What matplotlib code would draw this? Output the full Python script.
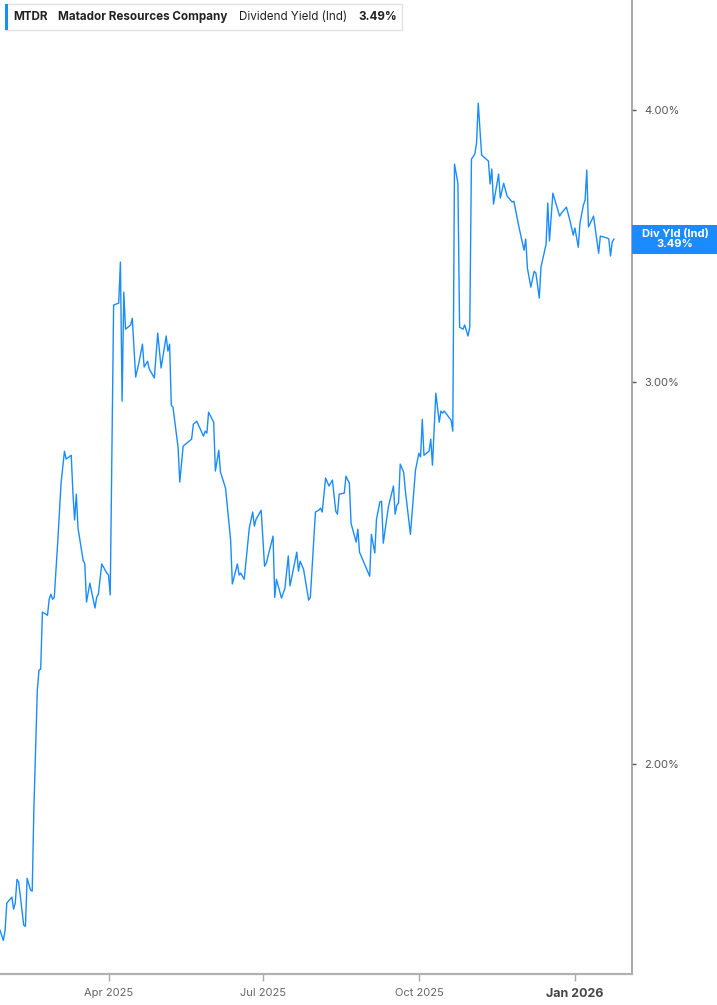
import datetime as dt
import matplotlib
matplotlib.use("Agg")
import matplotlib.pyplot as plt
from matplotlib.ticker import FixedLocator, FuncFormatter, NullLocator
from matplotlib.patches import Rectangle

plt.rcParams["font.family"] = ["Inter", "DejaVu Sans"]

# dividend yield (ind), %
dates = ["2025-01-27", "2025-01-29", "2025-01-30", "2025-01-31", "2025-02-03", "2025-02-04",
         "2025-02-05", "2025-02-06", "2025-02-07", "2025-02-10", "2025-02-11", "2025-02-12",
         "2025-02-14", "2025-02-15", "2025-02-16", "2025-02-18", "2025-02-19", "2025-02-20",
         "2025-02-21", "2025-02-24", "2025-02-25", "2025-02-26", "2025-02-27", "2025-02-28",
         "2025-03-02", "2025-03-04", "2025-03-06", "2025-03-07", "2025-03-10", "2025-03-11",
         "2025-03-12", "2025-03-13", "2025-03-14", "2025-03-17", "2025-03-18", "2025-03-19",
         "2025-03-21", "2025-03-24", "2025-03-25", "2025-03-26", "2025-03-28", "2025-03-31",
         "2025-04-01", "2025-04-02", "2025-04-04", "2025-04-07", "2025-04-08", "2025-04-09",
         "2025-04-10", "2025-04-11", "2025-04-14", "2025-04-15", "2025-04-17", "2025-04-19",
         "2025-04-21", "2025-04-22", "2025-04-24", "2025-04-25", "2025-04-28", "2025-04-30",
         "2025-05-02", "2025-05-05", "2025-05-06", "2025-05-07", "2025-05-08", "2025-05-09",
         "2025-05-12", "2025-05-13", "2025-05-15", "2025-05-20", "2025-05-21", "2025-05-23",
         "2025-05-27", "2025-05-28", "2025-05-29", "2025-05-30", "2025-06-02", "2025-06-03",
         "2025-06-05", "2025-06-06", "2025-06-09", "2025-06-12", "2025-06-13", "2025-06-16",
         "2025-06-17", "2025-06-18", "2025-06-20", "2025-06-23", "2025-06-25", "2025-06-26",
         "2025-06-27", "2025-06-30", "2025-07-02", "2025-07-03", "2025-07-07", "2025-07-08",
         "2025-07-09", "2025-07-12", "2025-07-14", "2025-07-16", "2025-07-17", "2025-07-21",
         "2025-07-22", "2025-07-23", "2025-07-25", "2025-07-28", "2025-07-29", "2025-08-01",
         "2025-08-03", "2025-08-04", "2025-08-05", "2025-08-07", "2025-08-09", "2025-08-11",
         "2025-08-13", "2025-08-14", "2025-08-15", "2025-08-18", "2025-08-19", "2025-08-21",
         "2025-08-22", "2025-08-25", "2025-08-26", "2025-08-27", "2025-09-02", "2025-09-03",
         "2025-09-05", "2025-09-06", "2025-09-08", "2025-09-09", "2025-09-10", "2025-09-13",
         "2025-09-16", "2025-09-17", "2025-09-18", "2025-09-19", "2025-09-20", "2025-09-22",
         "2025-09-23", "2025-09-26", "2025-09-29", "2025-10-01", "2025-10-02", "2025-10-03",
         "2025-10-04", "2025-10-07", "2025-10-08", "2025-10-09", "2025-10-11", "2025-10-13",
         "2025-10-14", "2025-10-15", "2025-10-16", "2025-10-20", "2025-10-21", "2025-10-22",
         "2025-10-24", "2025-10-25", "2025-10-27", "2025-10-28", "2025-10-30", "2025-10-31",
         "2025-11-01", "2025-11-03", "2025-11-04", "2025-11-05", "2025-11-07", "2025-11-11",
         "2025-11-12", "2025-11-13", "2025-11-14", "2025-11-17", "2025-11-18", "2025-11-20",
         "2025-11-22", "2025-11-25", "2025-11-26", "2025-11-29", "2025-12-02", "2025-12-03",
         "2025-12-04", "2025-12-06", "2025-12-08", "2025-12-09", "2025-12-11", "2025-12-12",
         "2025-12-15", "2025-12-16", "2025-12-17", "2025-12-19", "2025-12-23", "2025-12-24",
         "2025-12-27", "2025-12-29", "2025-12-31", "2026-01-01", "2026-01-03", "2026-01-04",
         "2026-01-06", "2026-01-07", "2026-01-08", "2026-01-09", "2026-01-12", "2026-01-15",
         "2026-01-16", "2026-01-20", "2026-01-21", "2026-01-22", "2026-01-23", "2026-01-24"]

yield_pct = [1.677, 1.659, 1.677, 1.726, 1.737, 1.715, 1.726, 1.770, 1.765, 1.686, 1.684, 1.772,
             1.750, 1.748, 1.911, 2.163, 2.210, 2.212, 2.350, 2.342, 2.382, 2.395, 2.382, 2.387,
             2.528, 2.694, 2.787, 2.764, 2.775, 2.666, 2.591, 2.663, 2.569, 2.483, 2.473, 2.375,
             2.423, 2.360, 2.387, 2.395, 2.473, 2.449, 2.444, 2.393, 3.254, 3.261, 3.406, 2.939,
             3.299, 3.172, 3.186, 3.209, 3.015, 3.063, 3.122, 3.047, 3.066, 3.041, 3.012, 3.159,
             3.044, 3.149, 3.099, 3.122, 2.927, 2.920, 2.799, 2.697, 2.802, 2.823, 2.868, 2.877,
             2.832, 2.847, 2.841, 2.905, 2.874, 2.729, 2.790, 2.726, 2.680, 2.536, 2.421, 2.473,
             2.444, 2.449, 2.433, 2.569, 2.613, 2.574, 2.593, 2.618, 2.467, 2.475, 2.547, 2.387,
             2.433, 2.385, 2.410, 2.494, 2.416, 2.504, 2.454, 2.480, 2.459, 2.380, 2.387, 2.613,
             2.618, 2.624, 2.613, 2.709, 2.686, 2.703, 2.615, 2.607, 2.663, 2.666, 2.714, 2.694,
             2.582, 2.531, 2.566, 2.504, 2.441, 2.552, 2.502, 2.593, 2.641, 2.643, 2.528, 2.627,
             2.686, 2.607, 2.632, 2.638, 2.749, 2.726, 2.674, 2.552, 2.732, 2.781, 2.770, 2.883,
             2.775, 2.787, 2.823, 2.746, 2.964, 2.874, 2.908, 2.902, 2.908, 2.880, 2.847, 3.779,
             3.703, 3.179, 3.172, 3.186, 3.149, 3.179, 3.799, 3.819, 3.864, 4.031, 3.815, 3.791,
             3.700, 3.759, 3.622, 3.739, 3.645, 3.703, 3.653, 3.630, 3.633, 3.535, 3.449, 3.490,
             3.384, 3.317, 3.373, 3.366, 3.278, 3.388, 3.471, 3.626, 3.483, 3.664, 3.576, 3.587,
             3.610, 3.561, 3.505, 3.531, 3.460, 3.550, 3.618, 3.637, 3.755, 3.535, 3.576, 3.438,
             3.501, 3.494, 3.490, 3.428, 3.479, 3.490]

ticker_sym = "MTDR"
company = "Matador Resources Company"
metric = "Dividend Yield (Ind)"
last_label = "3.49%"
y_ticks = [2.0, 3.0, 4.0]
x_ticks = ["2025-04-01", "2025-07-01", "2025-10-01", "2026-01-01"]
x_labels = ["Apr 2025", "Jul 2025", "Oct 2025", "Jan 2026"]

blue = "#1a8cff"
W, H = 717, 1005

fig = plt.figure(figsize=(W / 100, H / 100), dpi=100)
ax = fig.add_axes([0, 31 / H, 632 / W, 974 / H])

x = [dt.datetime.strptime(d, "%Y-%m-%d") for d in dates]
ax.plot(x, yield_pct, color=blue, lw=1.0)

ax.set_yscale("log")
ax.set_ylim(1.601, 4.497)
ax.set_xlim(dt.datetime(2025, 1, 27), dt.datetime(2026, 2, 3, 16))

ax.yaxis.tick_right()
ax.yaxis.set_major_locator(FixedLocator(y_ticks))
ax.yaxis.set_major_formatter(FuncFormatter(lambda v, p: "%.2f%%" % v))
ax.yaxis.set_minor_locator(NullLocator())
ax.tick_params(axis="y", which="major", length=3, width=1, color="#555555",
               labelcolor="#555555", labelsize=8, pad=6)

ax.set_xticks([dt.datetime.strptime(d, "%Y-%m-%d") for d in x_ticks])
ax.set_xticklabels(x_labels)
ax.tick_params(axis="x", length=5, width=1, color="#aaaaaa", labelcolor="#666666",
               labelsize=8, pad=5)
lab = ax.get_xticklabels()[-1]
lab.set_fontweight("bold")
lab.set_color("#444444")
lab.set_fontsize(9)

for s in ["top", "left"]:
    ax.spines[s].set_visible(False)
ax.spines["right"].set_color("#999999")
ax.spines["right"].set_linewidth(1.2)
ax.spines["bottom"].set_color("#b0b0b0")
ax.spines["bottom"].set_linewidth(1.6)

# last value box on the right axis
y_disp = ax.transData.transform((ax.get_xlim()[0], yield_pct[-1]))[1]
fig.patches.append(Rectangle((632 / W, (y_disp - 14.5) / H), 85 / W, 29 / H,
                             transform=fig.transFigure, fc=blue, ec="none", zorder=5))
fig.text(675 / W, y_disp / H, "Div Yld (Ind)\n" + last_label, ha="center", va="center",
         color="white", fontsize=8, fontweight="bold", linespacing=1.1, zorder=6)

# header box at the top left
fig.patches.append(Rectangle((5 / W, 1 - 30 / H), 397 / W, 26 / H, transform=fig.transFigure,
                             fc="white", ec="#e3e3e3", lw=1, zorder=5))
fig.patches.append(Rectangle((5 / W, 1 - 30 / H), 3 / W, 26 / H, transform=fig.transFigure,
                             fc=blue, ec="none", zorder=6))
renderer = fig.canvas.get_renderer()
ty = 1 - 17 / H
px = 13
for txt, wt in [(ticker_sym, "bold"), (company, "bold"), (metric, "normal"), (last_label, "bold")]:
    t = fig.text(px / W, ty, txt, fontsize=8.4, fontweight=wt, color="#222222",
                 va="center", zorder=7)
    px += t.get_window_extent(renderer).width + 11

fig.savefig("out.png", dpi=100)
